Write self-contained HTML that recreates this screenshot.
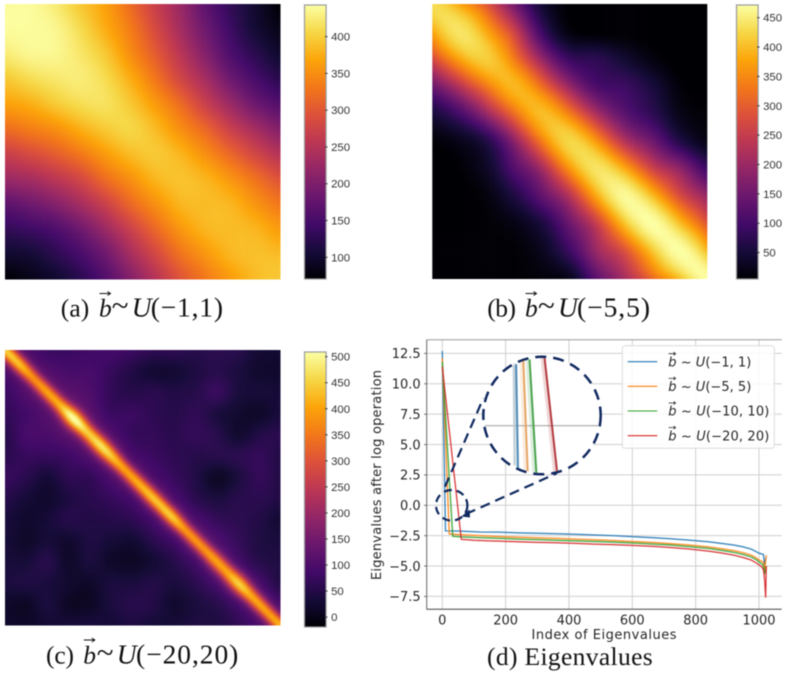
<!DOCTYPE html>
<html lang="en">
<head>
<meta charset="utf-8">
<title>Heatmaps and eigenvalue spectra</title>
<style>
html,body{margin:0;padding:0;background:#fff;width:788px;height:675px;overflow:hidden}
#figure{display:block;filter:blur(0.4px)}
text{white-space:pre}
.cap{font-family:"Liberation Serif","DejaVu Serif",serif;font-size:25.5px;fill:#111}
.math{font-size:27.5px}
.tilde{font-size:31px}
.cb{font-family:"Liberation Sans",sans-serif;font-size:11.4px;fill:#333}
.ax{font-family:"DejaVu Sans",sans-serif;font-size:13px;fill:#262626}
</style>
</head>
<body>
<svg id="figure" xmlns="http://www.w3.org/2000/svg" width="788" height="675" viewBox="0 0 788 675">
  <defs>
    <clipPath id="lens-clip"><ellipse cx="542" cy="415.5" rx="57.5" ry="57.5"/></clipPath>
    <clipPath id="plot-clip"><rect x="426.7" y="339.7" width="355" height="269.6"/></clipPath>
    <filter id="soft" x="-5%" y="-5%" width="110%" height="110%" color-interpolation-filters="sRGB"><feGaussianBlur stdDeviation="1"/></filter>
  </defs>
  <g id="heat-a"></g>
  <g id="heat-b"></g>
  <g id="heat-c"></g>
  <g id="bar-a"></g>
  <g id="bar-b"></g>
  <g id="bar-c"></g>
  <g id="line-chart"></g>

  <g class="cap">
    <text x="60.7" y="316.7" textLength="28.6">(a)</text>
    <text x="99" y="316.7" font-style="italic">b</text>
    <path d="M99.5 293.5H110M107.5 291.5L110.5 293.5L107.5 295.5" fill="none" stroke="#111" stroke-width="1"/>
    <text class="tilde" x="111.7" y="315.7">~</text>
    <text class="math" x="131.7" y="316.7" font-style="italic" textLength="18.3">U</text>
    <text class="math" x="150.7" y="316.7" textLength="72.3">(−1,1)</text>
  </g>
  <g class="cap">
    <text x="487.3" y="316.7" textLength="28.7">(b)</text>
    <text x="525" y="316.7" font-style="italic">b</text>
    <path d="M525.5 293.5H536M533.5 291.5L536.5 293.5L533.5 295.5" fill="none" stroke="#111" stroke-width="1"/>
    <text class="tilde" x="538" y="315.7">~</text>
    <text class="math" x="558" y="316.7" font-style="italic" textLength="18.7">U</text>
    <text class="math" x="577" y="316.7" textLength="73">(−5,5)</text>
  </g>
  <g class="cap">
    <text x="46" y="663.3" textLength="28">(c)</text>
    <text x="83.3" y="663.3" font-style="italic">b</text>
    <path d="M83.8 640H94.3M91.8 638L94.8 640L91.8 642" fill="none" stroke="#111" stroke-width="1"/>
    <text class="tilde" x="96.7" y="662.3">~</text>
    <text class="math" x="116.7" y="663.3" font-style="italic" textLength="18.3">U</text>
    <text class="math" x="136" y="663.3" textLength="102.3">(−20,20)</text>
  </g>
  <text class="cap" x="487" y="665" textLength="165.7">(d) Eigenvalues</text>
</svg>

<script>
// ---------- Heatmap A ----------
const heatARange = [70.5, 443];
const heatATicks = [100, 150, 200, 250, 300, 350, 400];
const heatAGrid = [
  [440,440,425,395,365,320,270,225,170,130,100,72],
  [440,440,435,410,375,335,285,235,185,140,105,85],
  [425,435,435,420,395,350,305,255,205,155,125,100],
  [395,410,420,425,410,375,330,280,235,185,150,125],
  [365,375,395,410,415,395,360,320,270,225,185,160],
  [320,335,350,375,395,405,385,350,315,270,235,205],
  [270,285,305,330,360,385,395,380,350,315,280,250],
  [225,235,255,280,320,350,380,390,380,355,325,295],
  [170,185,205,235,270,315,350,380,385,380,355,330],
  [130,140,155,185,225,270,315,355,380,385,380,360],
  [100,105,125,150,185,235,280,325,355,380,388,385],
  [72,85,100,125,160,205,250,295,330,360,385,395]
];
const heatARidgePeak = [0, 0];
const heatARidgeWidth = [0.1, 0.1];

// ---------- Heatmap B ----------
const heatBRange = [5, 471.6];
const heatBTicks = [50, 100, 150, 200, 250, 300, 350, 400, 450];
const heatBGrid = [
  [0,0,40,50,20,0,0,0,0,0,0],
  [0,0,10,50,20,0,0,0,0,0,0],
  [25,10,0,0,20,30,60,40,15,0,0],
  [40,25,0,0,0,20,40,70,50,10,0],
  [25,30,25,0,0,0,15,40,50,15,5],
  [5,10,5,10,0,0,0,10,50,30,10],
  [0,5,20,50,10,0,0,0,20,70,50],
  [0,0,10,40,50,10,0,0,0,20,75],
  [0,0,5,15,30,45,10,0,0,0,40],
  [0,0,0,5,20,55,80,20,0,0,0],
  [0,0,0,5,10,15,85,90,60,0,0]
];
const heatBRidgePeak = [430,440,415,395,400,425,440,465,472,472,470];
const heatBRidgeWidth = [0.13,0.13,0.12,0.11,0.11,0.115,0.12,0.125,0.13,0.125,0.12];

// ---------- Heatmap C ----------
const heatCRange = [-19, 509];
const heatCTicks = [0, 50, 100, 150, 200, 250, 300, 350, 400, 450, 500];
const heatCGrid = [
  [108,103,78,78,83,88,78,63,63,53,58,53,28,28],
  [98,118,108,93,93,73,48,28,28,43,53,38,23,23],
  [78,108,128,118,103,68,53,58,48,53,73,38,33,33],
  [68,88,113,138,118,78,78,63,53,63,38,23,18,38],
  [53,93,98,118,138,108,73,68,58,68,53,23,48,58],
  [58,73,73,83,108,138,98,78,63,53,53,58,68,48],
  [73,58,33,63,68,103,128,98,73,48,13,38,68,48],
  [53,33,23,43,58,73,93,128,98,58,38,53,58,48],
  [38,23,33,53,48,53,63,93,128,98,68,58,48,28],
  [33,18,33,23,43,33,28,58,88,123,98,68,43,38],
  [33,33,53,18,38,18,13,28,53,88,123,88,53,43],
  [38,43,38,23,18,38,38,48,38,58,93,128,93,48],
  [18,13,38,13,13,38,53,48,23,38,53,88,118,93],
  [23,18,28,33,38,33,43,33,33,43,43,63,98,118]
];
const heatCRidgePeak = [350,330,270,280,300,390,320,350,300,280,310,320,330,280,270,280,290,330,300,290,310];
const heatCRidgeWidth = [0.019,0.019,0.018,0.018,0.019,0.022,0.02,0.021,0.019,0.018,0.019,0.019,0.019,0.018,0.018,0.019,0.02,0.021,0.019,0.018,0.018];

// ---------- Eigenvalue chart ----------
const xTickValues = [0, 200, 400, 600, 800, 1000];
const yTickValues = [12.5, 10, 7.5, 5, 2.5, 0, -2.5, -5, -7.5];
const yTickLabels = ["12.5", "10.0", "7.5", "5.0", "2.5", "0.0", "−2.5", "−5.0", "−7.5"];
const legendLabels = ["(−1, 1)", "(−5, 5)", "(−10, 10)", "(−20, 20)"];
const blueIndex = [0,10,60,120,180,240,300,360,420,480,540,600,660,720,780,840,880,920,950,975,990,1000,1008,1014,1018,1020,1023];
const blueValues = [12.7,-2.1,-2.13,-2.2,-2.21,-2.27,-2.3,-2.34,-2.38,-2.44,-2.5,-2.58,-2.66,-2.75,-2.87,-3.0,-3.13,-3.27,-3.42,-3.6,-3.8,-3.95,-4.0,-4.05,-4.9,-4.5,-4.3];
const orangeIndex = [0,22,60,120,180,240,300,360,420,480,540,600,660,720,780,840,880,920,950,975,990,1000,1008,1014,1018,1020,1023];
const orangeValues = [12.1,-2.35,-2.42,-2.5,-2.58,-2.63,-2.68,-2.72,-2.78,-2.84,-2.9,-2.98,-3.05,-3.15,-3.27,-3.42,-3.57,-3.73,-3.9,-4.1,-4.3,-4.5,-4.6,-4.7,-5.4,-4.8,-4.1];
const greenIndex = [0,33,60,120,180,240,300,360,420,480,540,600,660,720,780,840,880,920,950,975,990,1000,1008,1014,1018,1020,1023];
const greenValues = [11.8,-2.55,-2.6,-2.66,-2.72,-2.78,-2.83,-2.88,-2.93,-2.98,-3.03,-3.1,-3.18,-3.27,-3.4,-3.55,-3.7,-3.87,-4.05,-4.25,-4.45,-4.65,-4.8,-4.95,-5.6,-5.5,-5.0];
const redIndex = [0,60,100,140,180,240,300,360,420,480,540,600,660,720,780,840,880,920,950,975,990,1000,1008,1014,1018,1021,1023];
const redValues = [11.4,-2.8,-2.88,-2.92,-2.95,-3.0,-3.05,-3.08,-3.13,-3.2,-3.24,-3.3,-3.37,-3.47,-3.6,-3.77,-3.92,-4.1,-4.3,-4.5,-4.72,-4.9,-5.05,-5.3,-6.2,-7.6,-5.0];

const NS = "http://www.w3.org/2000/svg";
const INFERNO = ["#000004","#160b39","#420a68","#6a176e","#932667","#bc3754","#dd513a","#f37819","#fca50a","#f6d746","#fcffa4"];
const INFERNO_RGB = INFERNO.map(function (h) {
  return [parseInt(h.substr(1, 2), 16), parseInt(h.substr(3, 2), 16), parseInt(h.substr(5, 2), 16)];
});

function make(tag, attrs, parent, text) {
  const el = document.createElementNS(NS, tag);
  for (const k in attrs) el.setAttribute(k, attrs[k]);
  if (text !== undefined) el.textContent = text;
  parent.appendChild(el);
  return el;
}
function colorFor(t) {
  t = Math.max(0, Math.min(1, t));
  const p = t * 10, i = Math.min(9, Math.floor(p)), f = p - i;
  const a = INFERNO_RGB[i], b = INFERNO_RGB[i + 1];
  return "rgb(" + Math.round(a[0] + (b[0] - a[0]) * f) + "," + Math.round(a[1] + (b[1] - a[1]) * f) + "," + Math.round(a[2] + (b[2] - a[2]) * f) + ")";
}
function cubic(p0, p1, p2, p3, t) {
  return 0.5 * (2 * p1 + (p2 - p0) * t + (2 * p0 - 5 * p1 + 4 * p2 - p3) * t * t + (3 * p1 - p0 - 3 * p2 + p3) * t * t * t);
}
function sample1d(arr, u) {
  const n = arr.length - 1, p = Math.max(0, Math.min(0.999999, u)) * n, i = Math.floor(p), f = p - i;
  const g = function (k) { return arr[Math.max(0, Math.min(n, k))]; };
  return cubic(g(i - 1), g(i), g(i + 1), g(i + 2), f);
}
function sample2d(grid, u, v) {
  const n = grid.length - 1, p = Math.max(0, Math.min(0.999999, v)) * n, i = Math.floor(p), f = p - i;
  const r = function (k) { return sample1d(grid[Math.max(0, Math.min(n, k))], u); };
  return cubic(r(i - 1), r(i), r(i + 1), r(i + 2), f);
}

function drawHeatmap(id, left, top, size, grid, peak, width, range) {
  const group = document.getElementById(id);
  const defs = document.querySelector("#figure defs");
  const clip = make("clipPath", { id: id + "-clip" }, defs);
  make("rect", { x: left, y: top, width: size, height: size }, clip);
  group.setAttribute("clip-path", "url(#" + id + "-clip)");
  const soft = make("g", { filter: "url(#soft)" }, group);
  
  
  const cells = 92, step = size / cells;
  for (let r = -3; r < cells + 3; r++) {
    for (let c = -3; c < cells + 3; c++) {
      const u = (c + 0.5) / cells, v = (r + 0.5) / cells;
      const s = Math.max(0, Math.min(1, (u + v) / 2)), d = (v - u) / Math.SQRT2, w = sample1d(width, s);
      const val = sample2d(grid, u, v) + sample1d(peak, s) * Math.exp(-d * d / (2 * w * w));
      const rect = make("rect", {
        x: (left + c * step).toFixed(2), y: (top + r * step).toFixed(2),
        width: (step + 0.3).toFixed(2), height: (step + 0.3).toFixed(2),
        fill: colorFor((val - range[0]) / (range[1] - range[0]))
      }, soft);
      
      
    }
  }
}

function drawColorbar(id, left, top, bottom, ticks, range) {
  const group = document.getElementById(id);
  const w = 21.6;
  const grad = make("linearGradient", { id: id + "-grad", x1: 0, y1: 1, x2: 0, y2: 0 }, group);
  INFERNO.forEach(function (col, i) { make("stop", { offset: i / 10, "stop-color": col }, grad); });
  const body = make("rect", { x: left, y: top, width: w, height: bottom - top, fill: "url(#" + id + "-grad)", stroke: "#9a9a9a", "stroke-width": 1.2 }, group);
  
  
  const yOf = function (v) { return bottom - (v - range[0]) / (range[1] - range[0]) * (bottom - top); };
  ticks.forEach(function (v) {
    const y = yOf(v);
    const tick = make("line", { x1: left + w - 1, x2: left + w + 1.5, y1: y, y2: y, stroke: "#333", "stroke-width": 1 }, group);
    
    
    const label = make("text", { x: left + w + 5, y: y + 4, class: "cb" }, group, String(v));
    
    
  });
}

drawHeatmap("heat-a", 5, 4, 275.5, heatAGrid, heatARidgePeak, heatARidgeWidth, heatARange);
drawHeatmap("heat-b", 432.3, 4, 275, heatBGrid, heatBRidgePeak, heatBRidgeWidth, heatBRange);
drawHeatmap("heat-c", 5, 350, 275.5, heatCGrid, heatCRidgePeak, heatCRidgeWidth, heatCRange);
drawColorbar("bar-a", 304.5, 5, 279, heatATicks, heatARange);
drawColorbar("bar-b", 736.5, 5, 279, heatBTicks, heatBRange);
drawColorbar("bar-c", 304.5, 352, 627, heatCTicks, heatCRange);

// ---------- Line chart ----------
(function () {
  const g = document.getElementById("line-chart");
  const L = 426.7, R = 781.7, T = 339.7, B = 609.3;
  const xPos = function (v) { return 442.3 + v * 0.3167; };
  const yPos = function (v) { return 505.3 - v * 12.15; };
  const NAVY = "#10285f";
  const seriesColors = ["#1f77b4", "#ff7f0e", "#2ca02c", "#d62728"];
  const seriesIdx = [blueIndex, orangeIndex, greenIndex, redIndex];
  const seriesVal = [blueValues, orangeValues, greenValues, redValues];
  const seriesNames = ["blue", "orange", "green", "red"];

  xTickValues.forEach(function (v) {
    const x = xPos(v);
    const grid = make("line", { x1: x, x2: x, y1: T, y2: B, stroke: "#cfcfcf", "stroke-width": 1 }, g);
    
    
    const label = make("text", { x: x, y: 624.3, class: "ax", "text-anchor": "middle" }, g, String(v));
    
    
  });
  yTickValues.forEach(function (v, i) {
    const y = yPos(v);
    const grid = make("line", { x1: L, x2: R, y1: y, y2: y, stroke: "#cfcfcf", "stroke-width": 1 }, g);
    
    
    const tick = make("line", { x1: L - 2.5, x2: L, y1: y, y2: y, stroke: "#666", "stroke-width": 1 }, g);
    
    
    const label = make("text", { x: 420.7, y: y + 4.8, class: "ax", "text-anchor": "end" }, g, yTickLabels[i]);
    
    
  });

  const topSpine = make("line", { x1: L, x2: R, y1: T, y2: T, stroke: "#9a9a9a", "stroke-width": 1 }, g);
  
  
  const leftSpine = make("line", { x1: L, x2: L, y1: T, y2: B, stroke: "#666", "stroke-width": 1 }, g);
  
  
  const bottomSpine = make("line", { x1: L, x2: R, y1: B, y2: B, stroke: "#444", "stroke-width": 1 }, g);
  
  

  const xTitle = make("text", { x: 604, y: 639, class: "ax", "text-anchor": "middle", textLength: 145, "font-size": "12.5" }, g, "Index of Eigenvalues");
  
  
  const yTitle = make("text", { x: 0, y: 0, class: "ax", "text-anchor": "middle", textLength: 210, transform: "translate(381 475) rotate(-90)" }, g, "Eigenvalues after log operation");
  
  

  function pointsOf(k) {
    return seriesIdx[k].map(function (ix, i) { return xPos(ix).toFixed(2) + "," + yPos(seriesVal[k][i]).toFixed(2); }).join(" ");
  }
  seriesColors.forEach(function (col, k) {
    const halo = make("polyline", { points: pointsOf(k), fill: "none", stroke: col, "stroke-width": 1.9, opacity: 0.22, "clip-path": "url(#plot-clip)" }, g);
    
    
    const line = make("polyline", { points: pointsOf(k), fill: "none", stroke: col, "stroke-width": 1, "clip-path": "url(#plot-clip)" }, g);
    
    
  });

  // Legend
  const legendBox = make("rect", { x: 622.3, y: 345.7, width: 152, height: 102.6, rx: 2.5, fill: "#fff", "fill-opacity": 0.85, stroke: "#dcdcdc", "stroke-width": 1 }, g);
  
  
  legendLabels.forEach(function (txt, i) {
    const y = 361.7 + i * 24.65;
    const handle = make("line", { x1: 627.7, x2: 657.3, y1: y, y2: y, stroke: seriesColors[i], "stroke-width": 1.1 }, g);
    
    
    const entry = make("text", { x: 668.3, y: y + 4.6, class: "ax", textLength: i < 2 ? 83 : 101 }, g);
    
    
    make("tspan", { "font-style": "italic" }, entry, "b");
    make("tspan", {}, entry, " ~ ");
    make("tspan", { "font-style": "italic" }, entry, "U");
    make("tspan", {}, entry, txt);
    const arrow = make("path", { d: "M" + 668.6 + " " + (y - 8) + "h7m-2 -1.6l2 1.6l-2 1.6", fill: "none", stroke: "#262626", "stroke-width": 0.8 }, g);
    
    
  });

  // Magnified lens
  const sourceEllipse = make("ellipse", { cx: 451.7, cy: 505.3, rx: 15.7, ry: 15.3, fill: "none", stroke: NAVY, "stroke-width": 2.2, "stroke-dasharray": "8 5" }, g);
  
  
  const connectorTop = make("line", { x1: 445, y1: 486.7, x2: 483.3, y2: 398.3, stroke: NAVY, "stroke-width": 2.2, "stroke-dasharray": "10 6" }, g);
  
  
  const connectorBottom = make("line", { x1: 466, y1: 514, x2: 556.7, y2: 473.3, stroke: NAVY, "stroke-width": 2.2, "stroke-dasharray": "10 6" }, g);
  
  
  const arrowHead = make("path", { d: "M461.5 516.5L469.5 509.5L470 517.5Z", fill: NAVY }, g);
  
  

  const lens = make("ellipse", { cx: 542, cy: 415.5, rx: 58.7, ry: 58.8, fill: "#fff", stroke: NAVY, "stroke-width": 2.5, "stroke-dasharray": "11 7" }, g);
  
  
  const lensGrid = make("line", { x1: 485, x2: 599, y1: 425.7, y2: 425.7, stroke: "#a8a8a8", "stroke-width": 1.2 }, g);
  
  
  const lensPale = make("line", { x1: 514.3, x2: 514.3, y1: 363, y2: 465, stroke: "#dddddd", "stroke-width": 2 }, g);
  
  

  const lensX = function (px) { return 517 + (px - 445) * 2.7; };
  const lensY = function (py) { return 415.5 + (py - 505.3) * 2.7; };
  const lensColors = ["#4f8ab5", "#e6a564", "#4ba34f", "#b33a3f"];
  seriesIdx.forEach(function (idx, k) {
    const x1 = lensX(xPos(idx[0])), y1 = lensY(yPos(seriesVal[k][0]));
    const x2 = lensX(xPos(idx[1])), y2 = lensY(yPos(seriesVal[k][1]));
    const halo = make("line", { x1: x1 - 2, y1: y1, x2: x2 - 2, y2: y2, stroke: lensColors[k], "stroke-width": 4, opacity: 0.2, "clip-path": "url(#lens-clip)" }, g);
    
    
    const seg = make("line", { x1: x1, y1: y1, x2: x2, y2: y2, stroke: lensColors[k], "stroke-width": 2, "clip-path": "url(#lens-clip)" }, g);
    
    
  });
})();
</script>
</body>
</html>
